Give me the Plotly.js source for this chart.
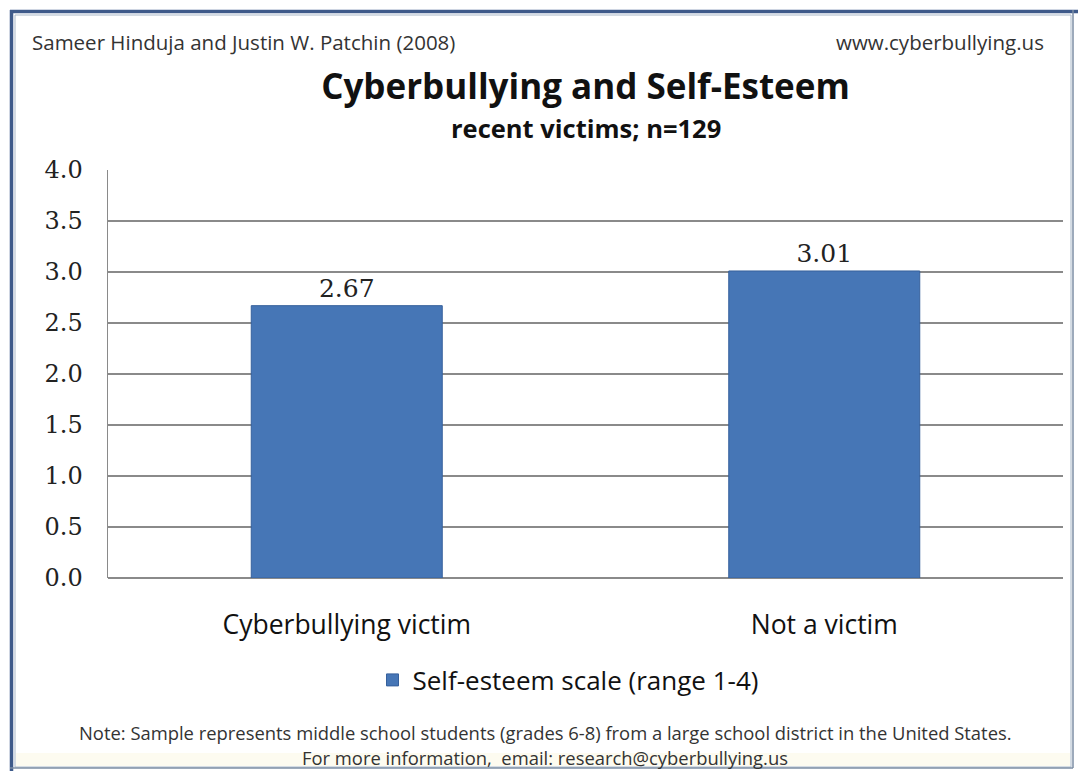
<!DOCTYPE html>
<html>
<head>
<meta charset="utf-8">
<script src="https://cdn.plot.ly/plotly-3.0.1.min.js"></script>
<style>html,body{margin:0;padding:0;background:#fff;}#chart{width:1078px;height:771px;}</style>
</head>
<body>
<div id="chart"></div>
<script>
// ---- data ----
const categories = ["Cyberbullying victim", "Not a victim"];
const selfEsteem = [2.67, 3.01];
const seriesName = "Self-esteem scale (range 1-4)";
const yTickVals = [0, 0.5, 1, 1.5, 2, 2.5, 3, 3.5, 4];
const chartTitle = "Cyberbullying and Self-Esteem";
const chartSubtitle = "recent victims; n=129";
const headerLeft = "Sameer Hinduja and Justin W. Patchin (2008)";
const headerRight = "www.cyberbullying.us";
const noteLines = [
  "Note: Sample represents middle school students (grades 6-8) from a large school district in the United States.",
  "For more information,  email: research@cyberbullying.us"
];

// ---- layout geometry (pixels) ----
const W = 1078, H = 771;
const L = 108, R = 1063, T = 170, B = 578;
const px2x = p => (p - L) / (R - L);
const px2y = p => (B - p) / (B - T);

const sans = "Open Sans, Lato, sans-serif";
const serif = "DejaVu Serif, Liberation Serif, serif";

const trace = {
  type: "bar",
  x: categories,
  y: selfEsteem,
  name: seriesName,
  width: 0.4,
  marker: { color: "#4676b6", line: { color: "#36609c", width: 1 } },
  text: selfEsteem.map(v => v.toFixed(2)),
  textposition: "outside",
  cliponaxis: false,
  textfont: { family: serif, size: 25, color: "#222" },
  showlegend: true,
  hoverinfo: "skip"
};

const layout = {
  width: W, height: H,
  margin: { l: L, r: W - R, t: T, b: H - B, pad: 0 },
  paper_bgcolor: "#ffffff",
  plot_bgcolor: "#ffffff",
  showlegend: true,
  title: {
    text: "<b>" + chartTitle + "</b>",
    font: { family: sans, size: 35, color: "#111" },
    x: 0.5, xanchor: "center", xref: "paper",
    y: 1 - 87 / H, yanchor: "middle", yref: "container"
  },
  xaxis: {
    type: "category",
    showgrid: false,
    showline: false,
    zeroline: false,
    ticks: "",
    ticklabelstandoff: 28,
    tickfont: { family: sans, size: 26.5, color: "#111" }
  },
  yaxis: {
    range: [0, 4],
    tickvals: yTickVals,
    tickformat: ".1f",
    showgrid: true,
    gridcolor: "#8a8a8a",
    gridwidth: 1.5,
    zeroline: true,
    zerolinecolor: "#8a8a8a",
    zerolinewidth: 1.5,
    showline: true,
    linecolor: "#8a8a8a",
    linewidth: 1.5,
    ticks: "",
    ticklabelstandoff: 19,
    tickfont: { family: serif, size: 24, color: "#222" }
  },
  legend: {
    orientation: "h",
    x: px2x(568), xanchor: "center",
    y: px2y(680), yanchor: "middle",
    font: { family: sans, size: 26, color: "#111" },
    itemwidth: 30,
    bgcolor: "rgba(0,0,0,0)"
  },
  annotations: [
    { text: headerLeft, x: px2x(30), xanchor: "left", y: px2y(42), yanchor: "middle",
      xref: "paper", yref: "paper", showarrow: false,
      font: { family: sans, size: 20.5, color: "#333" } },
    { text: headerRight, x: px2x(1046), xanchor: "right", y: px2y(42), yanchor: "middle",
      xref: "paper", yref: "paper", showarrow: false,
      font: { family: sans, size: 20.5, color: "#333" } },
    { text: "<b>" + chartSubtitle + "</b>", x: 0.5, xanchor: "center", y: px2y(128), yanchor: "middle",
      xref: "paper", yref: "paper", showarrow: false,
      font: { family: sans, size: 25.5, color: "#111" } },
    { text: noteLines[0], x: px2x(545), xanchor: "center", y: px2y(732), yanchor: "middle",
      xref: "paper", yref: "paper", showarrow: false,
      font: { family: sans, size: 18.4, color: "#333" } },
    { text: noteLines[1], x: px2x(545), xanchor: "center", y: px2y(757), yanchor: "middle",
      xref: "paper", yref: "paper", showarrow: false,
      font: { family: sans, size: 18.4, color: "#333" } }
  ],
  shapes: [
    // light inner frame
    { type: "rect", xref: "paper", yref: "paper", layer: "below",
      x0: px2x(15), x1: px2x(1071), y0: px2y(767), y1: px2y(15),
      line: { color: "#a9b8c8", width: 1 }, fillcolor: "rgba(0,0,0,0)" },
    // bottom cream strip
    { type: "rect", xref: "paper", yref: "paper", layer: "below",
      x0: px2x(16), x1: px2x(1070), y0: px2y(766), y1: px2y(753),
      line: { width: 0 }, fillcolor: "#fdfbf0" },
    // dark blue top border
    { type: "line", xref: "paper", yref: "paper",
      x0: px2x(10), x1: px2x(1078), y0: px2y(11.5), y1: px2y(11.5),
      line: { color: "#3e5a8a", width: 3.5 } },
    // dark blue left border
    { type: "line", xref: "paper", yref: "paper",
      x0: px2x(11.5), x1: px2x(11.5), y0: px2y(10), y1: px2y(771),
      line: { color: "#3e5a8a", width: 3.5 } },
    // right border
    { type: "line", xref: "paper", yref: "paper",
      x0: px2x(1073), x1: px2x(1073), y0: px2y(10), y1: px2y(768),
      line: { color: "#7d8ea4", width: 1.5 } },
    // bottom border
    { type: "line", xref: "paper", yref: "paper",
      x0: px2x(10), x1: px2x(1073), y0: px2y(768), y1: px2y(768),
      line: { color: "#7d8ea4", width: 1.5 } }
  ]
};

Plotly.newPlot("chart", [trace], layout, { displayModeBar: false, staticPlot: true });
</script>
</body>
</html>
